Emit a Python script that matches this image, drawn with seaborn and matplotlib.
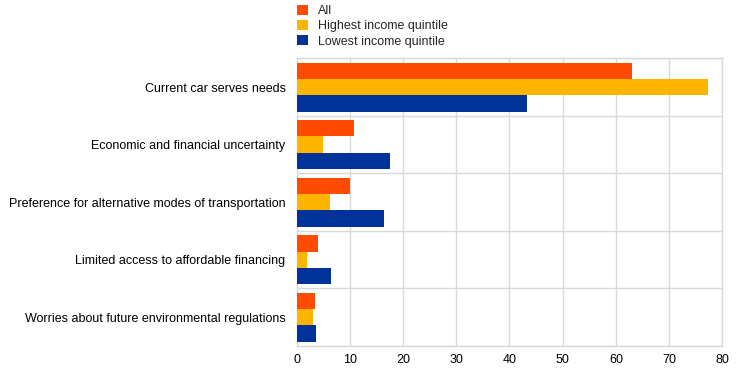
import pandas as pd
import numpy as np
import matplotlib.pyplot as plt
import seaborn as sns
from matplotlib.patches import Patch
from matplotlib.ticker import FixedLocator

# -----------------------------
# data
# -----------------------------
categories = [
    "Current car serves needs",
    "Economic and financial uncertainty",
    "Preference for alternative modes of transportation",
    "Limited access to affordable financing",
    "Worries about future environmental regulations",
]
all_vals = [63.0, 10.8, 10.0, 4.0, 3.4]
highest_vals = [77.3, 4.9, 6.3, 1.9, 3.1]
lowest_vals = [43.3, 17.5, 16.4, 6.4, 3.6]

series = ["All", "Highest income quintile", "Lowest income quintile"]
colors = ["#FF4B00", "#FFB400", "#003299"]

df = pd.DataFrame({
    "category": categories * 3,
    "series": [series[0]] * 5 + [series[1]] * 5 + [series[2]] * 5,
    "value": all_vals + highest_vals + lowest_vals,
})

sns.set_style("white")
plt.rcParams["font.family"] = ["Liberation Sans", "DejaVu Sans"]

fig = plt.figure(figsize=(7.44, 3.73), dpi=100)
ax = fig.add_axes([0.3988, 0.0724, 0.5720, 0.7713])

sns.barplot(data=df, y="category", x="value", hue="series", order=categories,
            hue_order=series, palette=colors, orient="h", width=0.85,
            saturation=1, errorbar=None, legend=False, ax=ax, zorder=3,
            edgecolor="none", linewidth=0)

ax.set_xlim(0, 80)
ax.set_ylim(4.5, -0.5)
ax.set_xticks(np.arange(0, 81, 10))
ax.yaxis.set_minor_locator(FixedLocator(np.arange(-0.5, 5, 1)))
ax.grid(axis="x", color="#d9d9d9", linewidth=1, zorder=0)
ax.grid(axis="y", which="minor", color="#d9d9d9", linewidth=1, zorder=0)
ax.tick_params(axis="both", which="both", length=0, labelsize=9, colors="black")
ax.tick_params(axis="y", pad=8)
ax.tick_params(axis="x", pad=6)
for s in ax.spines.values():
    s.set_color("#d9d9d9")
    s.set_linewidth(1)
ax.set_xlabel("")
ax.set_ylabel("")

handles = [Patch(facecolor=c, edgecolor="none", label=l) for c, l in zip(colors, series)]
fig.legend(handles=handles, loc="upper left", bbox_to_anchor=(0.384, 1.018),
           frameon=False, fontsize=9, handlelength=0.85, handleheight=0.85,
           labelspacing=0.25, handletextpad=0.8)

plt.savefig("out.png", dpi=100)
